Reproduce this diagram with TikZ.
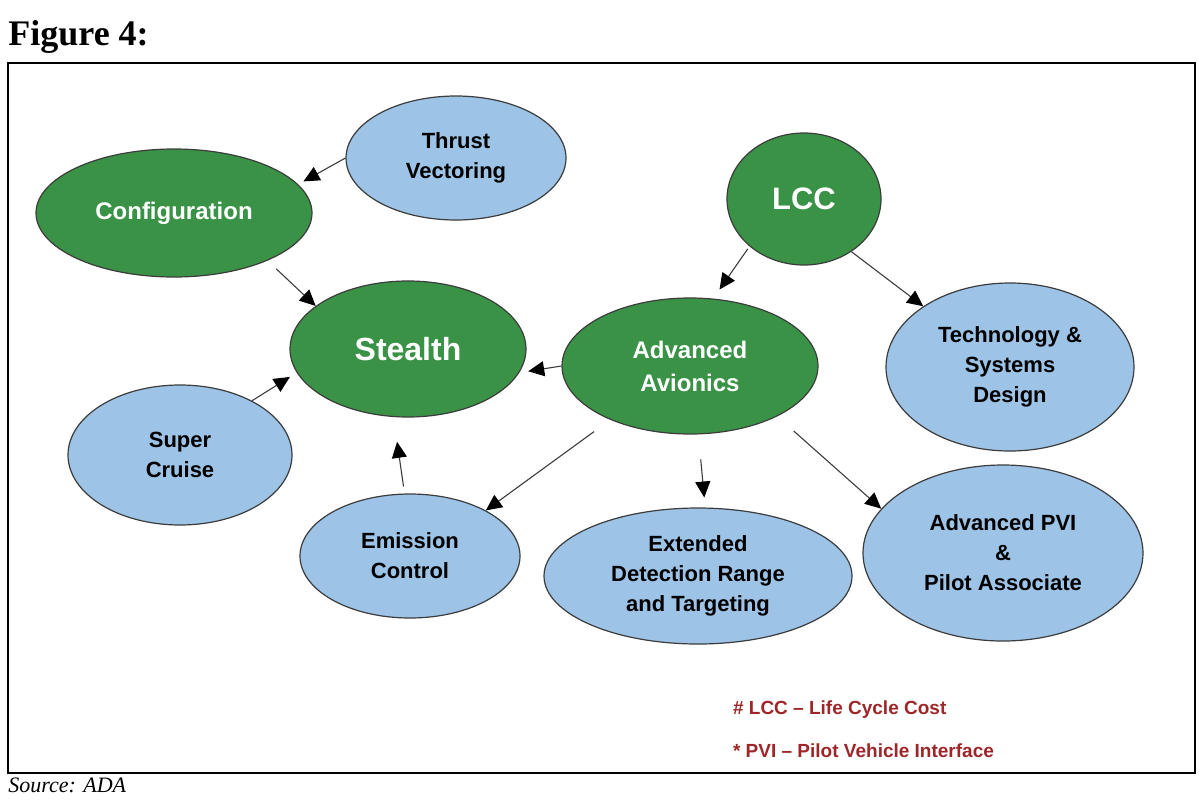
\documentclass[tikz,border=0pt]{standalone}
\usepackage{fontspec}
\setmainfont{Liberation Serif}
\setsansfont{Liberation Sans}
\usetikzlibrary{shapes.geometric,arrows.meta}
\definecolor{nodegreen}{RGB}{58,146,70}
\definecolor{nodeblue}{RGB}{157,195,230}
\definecolor{edgegray}{RGB}{60,60,60}
\definecolor{notered}{RGB}{158,38,40}
\tikzset{
  ell/.style={ellipse, draw=edgegray, line width=0.6pt, inner sep=0pt, align=center},
  gnode/.style={ell, fill=nodegreen, text=white, font=\sffamily\bfseries\fontsize{12}{16.5}\selectfont},
  bnode/.style={ell, fill=nodeblue, text=black, font=\sffamily\bfseries\fontsize{11}{15}\selectfont},
  arr/.style={draw=edgegray, line width=0.55pt, -{Triangle[length=8pt,width=7.5pt]}, arrows={[color=black]}},
  note/.style={anchor=base west, text=notered, font=\sffamily\bfseries\fontsize{9.5}{11}\selectfont},
}
\begin{document}
\begin{tikzpicture}[x=0.5pt,y=-0.5pt]
\useasboundingbox (0,0) rectangle (1200,810);
\node[anchor=base west, inner sep=0pt, font=\bfseries\fontsize{18}{20}\selectfont] (title) at (8,45) {Figure 4:};
\draw[line width=1.25pt] (8,63) rectangle (1195,773);
\node[anchor=base west, inner sep=0pt, font=\itshape\fontsize{11}{13}\selectfont] (src) at (8,792) {Source: ADA};

\node[bnode, minimum width=110pt, minimum height=62pt] (tv) at (456,158) {Thrust\\Vectoring};
\node[gnode, minimum width=138pt, minimum height=64pt] (conf) at (174,213) {Configuration};
\node[gnode, minimum width=77pt, minimum height=66pt, font=\sffamily\bfseries\fontsize{15.5}{18}\selectfont] (lcc) at (804,199) {LCC};
\node[gnode, minimum width=118pt, minimum height=68pt, font=\sffamily\bfseries\fontsize{16}{18}\selectfont] (st) at (408,349) {Stealth};
\node[gnode, minimum width=128pt, minimum height=68pt] (av) at (690,366) {Advanced\\Avionics};
\node[bnode, minimum width=124pt, minimum height=84pt] (tech) at (1010,367) {Technology \&\\Systems\\Design};
\node[bnode, minimum width=112pt, minimum height=70pt] (sc) at (180,455) {Super\\Cruise};
\node[bnode, minimum width=110pt, minimum height=62pt] (em) at (410,556) {Emission\\Control};
\node[bnode, minimum width=154pt, minimum height=68pt] (ext) at (698,576) {Extended\\Detection Range\\and Targeting};
\node[bnode, minimum width=140pt, minimum height=88pt] (pvi) at (1003,553) {Advanced PVI\\\&\\Pilot Associate};

\draw[arr, shorten >=3pt] (tv.180) -- (conf.13);
\draw[arr, shorten <=6pt] (conf.-27) -- (st.155);
\draw[arr, shorten <=1.5pt, shorten >=5.5pt] (lcc.221) -- (av.71);
\draw[arr] (lcc.-48) -- (tech.145);
\draw[arr, shorten >=4.5pt] (av.180) -- (st.-12);
\draw[arr, shorten >=4pt] (sc.37) -- (st.192);
\draw[arr, shorten <=3.5pt, shorten >=12.5pt] (em.95) -- (st.258);
\draw[arr, shorten <=10pt] (av.214) -- (em.31);
\draw[arr, shorten <=12.5pt, shorten >=5pt] (av.-83) -- (ext.84);
\draw[arr, shorten <=11pt] (av.-30) -- (pvi.160);

\node[note] (n1) at (726,714) {\# LCC -- Life Cycle Cost};
\node[note] (n2) at (726,757) {* PVI -- Pilot Vehicle Interface};
\end{tikzpicture}
\end{document}
